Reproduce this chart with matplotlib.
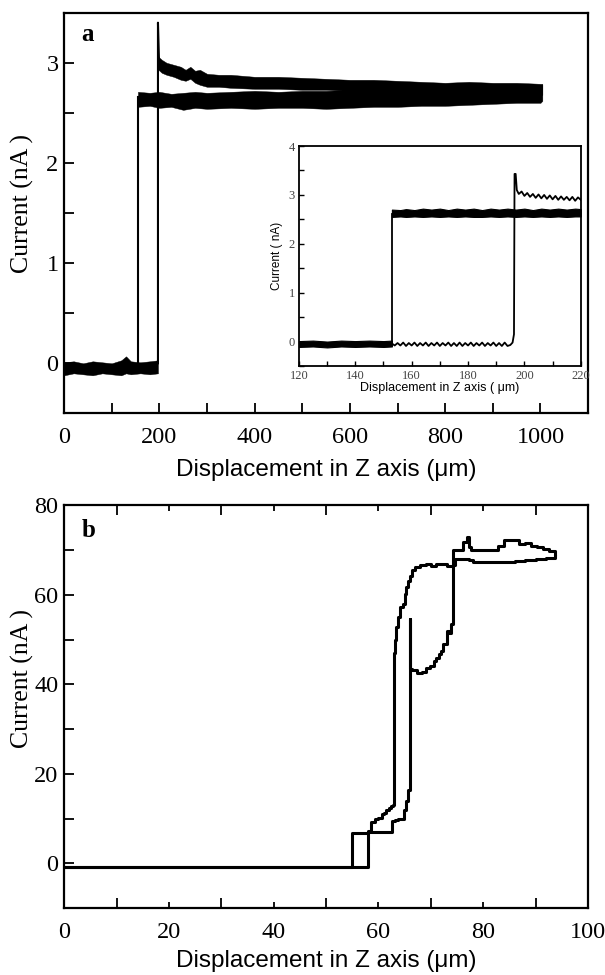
import numpy as np
import matplotlib.pyplot as plt
from matplotlib.ticker import MultipleLocator

# ---------------- panel a : main traces ----------------
# baseline band shared by both sweeps
a_base_x = [0, 20, 40, 60, 80, 100, 120, 130, 140, 160, 180, 197]
a_base_lo = [-0.12, -0.10, -0.11, -0.12, -0.10, -0.11, -0.12, -0.10, -0.11, -0.10, -0.11, -0.10]
a_base_hi = [0.01, 0.02, 0.00, 0.02, 0.01, 0.00, 0.03, 0.07, 0.02, 0.01, 0.02, 0.03]

# sweep 1: step at ~155 um, noisy plateau
a1_step_x = [155, 155]
a1_step_y = [0.0, 2.66]
a1_band_x = [155, 180, 200, 225, 250, 275, 300, 350, 400, 450, 500, 550, 600, 650, 700, 750, 800,
             850, 900, 950, 1000, 1004]
a1_band_lo = [2.56, 2.57, 2.55, 2.56, 2.53, 2.55, 2.54, 2.55, 2.54, 2.55, 2.55, 2.54, 2.55, 2.56, 2.56,
              2.57, 2.57, 2.58, 2.59, 2.60, 2.60, 2.62]
a1_band_hi = [2.71, 2.70, 2.71, 2.69, 2.70, 2.71, 2.70, 2.71, 2.72, 2.71, 2.72, 2.72, 2.73, 2.73, 2.74,
              2.75, 2.76, 2.76, 2.77, 2.77, 2.77, 2.78]

# sweep 2: step at ~197 um with overshoot, decaying plateau
a2_step_x = [197, 197, 199]
a2_step_y = [0.0, 3.40, 3.05]
a2_band_x = [198, 205, 215, 230, 245, 255, 265, 275, 285, 300, 325, 350, 400, 450, 500, 550, 600,
             650, 700, 750, 800, 850, 900, 950, 1000, 1004]
a2_band_hi = [3.06, 3.03, 3.00, 2.98, 2.96, 2.93, 2.96, 2.92, 2.93, 2.89, 2.88, 2.88, 2.86, 2.86, 2.85,
              2.84, 2.83, 2.83, 2.82, 2.81, 2.80, 2.81, 2.80, 2.80, 2.79, 2.79]
a2_band_lo = [2.93, 2.90, 2.88, 2.86, 2.83, 2.82, 2.84, 2.80, 2.78, 2.76, 2.76, 2.75, 2.74, 2.74, 2.73,
              2.73, 2.72, 2.72, 2.71, 2.71, 2.70, 2.70, 2.69, 2.69, 2.68, 2.68]

# ---------------- panel a : inset ----------------
in_base_x = [120, 125, 130, 135, 140, 145, 150, 153]
in_base_lo = [-0.11, -0.10, -0.12, -0.10, -0.11, -0.10, -0.11, -0.10]
in_base_hi = [0.01, 0.02, 0.00, 0.02, 0.01, 0.02, 0.01, 0.02]
in1_step_x = [153, 153]
in1_step_y = [-0.05, 2.62]
in1_band_x = [153, 156, 158, 161, 164, 167, 170, 173, 176, 179, 182, 185, 188, 191, 194, 197, 200, 203,
              206, 209, 212, 215, 218, 220]
in1_band_lo = [2.55, 2.56, 2.55, 2.56, 2.55, 2.56, 2.55, 2.56, 2.55, 2.56, 2.55, 2.55, 2.56, 2.55, 2.56,
               2.55, 2.56, 2.55, 2.56, 2.55, 2.56, 2.55, 2.56, 2.56]
in1_band_hi = [2.70, 2.69, 2.71, 2.69, 2.72, 2.70, 2.72, 2.69, 2.72, 2.70, 2.72, 2.69, 2.72, 2.70, 2.72,
               2.70, 2.72, 2.69, 2.72, 2.70, 2.72, 2.70, 2.72, 2.71]
# sweep 2 in the inset: rippled baseline, step at ~196.5 um, rippled plateau
in2_x = [153, 154, 155, 156, 157, 158, 159, 160, 161, 162, 163, 164, 165, 166, 167, 168, 169, 170,
         171, 172, 173, 174, 175, 176, 177, 178, 179, 180, 181, 182, 183, 184, 185, 186, 187, 188,
         189, 190, 191, 192, 193, 194, 195, 195.8, 196.3, 196.5, 196.9, 197.3,
         198, 199, 200, 201, 202, 203, 204, 205, 206, 207, 208, 209, 210, 211, 212, 213, 214,
         215, 216, 217, 218, 219, 220]
in2_y = [-0.04, -0.08, -0.03, -0.08, -0.02, -0.09, -0.03, -0.08, -0.02, -0.09, -0.03, -0.08, -0.02, -0.09,
         -0.03, -0.08, -0.02, -0.09, -0.03, -0.08, -0.02, -0.09, -0.03, -0.09, -0.02, -0.09, -0.03, -0.08,
         -0.02, -0.09, -0.03, -0.08, -0.02, -0.09, -0.03, -0.08, -0.02, -0.09, -0.03, -0.09, -0.02, -0.09,
         -0.07, -0.02, 0.15, 3.43, 3.43, 3.10,
         3.02, 3.07, 2.98, 3.04, 2.96, 3.02, 2.94, 3.01, 2.93, 3.00, 2.92, 2.99, 2.91, 2.98, 2.90, 2.97,
         2.90, 2.96, 2.89, 2.96, 2.88, 2.95, 2.90]

# ---------------- panel b ----------------
b1_x = [0, 55, 55, 58, 58.6, 59.3, 60, 60.6, 61, 61.5, 62, 62.4, 62.8, 63.0, 63.0, 63.1, 63.4, 63.8,
        64.2, 64.6, 65.0, 65.3, 65.7, 66.0, 66.4, 67.0, 67.9, 69, 70, 71, 72, 73, 74.3, 74.6, 76, 77.2,
        78, 80, 82, 84, 86, 88, 90, 92, 93.7]
b1_y = [-0.9, -0.9, 6.8, 7.3, 9.2, 9.8, 10.2, 11.0, 11.2, 12.0, 12.3, 12.8, 13.0, 18.5, 47.0, 49.8, 52.8,
        55.0, 57.3, 58.0, 60.2, 61.7, 63.2, 64.3, 65.5, 66.2, 66.6, 66.9, 66.4, 66.8, 66.8, 66.5, 66.6,
        68.0, 68.0, 67.8, 67.3, 67.3, 67.4, 67.3, 67.6, 67.8, 68.0, 68.3, 68.6]
b2_x = [0, 58, 58, 62, 62.5, 63.2, 63.8, 64.9, 65.3, 65.7, 66.0, 66.0, 66.1, 66.4, 67.3, 68.3, 69.0,
        69.8, 70.5, 71.0, 71.6, 72.0, 72.4, 73.1, 73.5, 73.9, 74.3, 74.3, 75.7, 76.1, 76.9, 77.2, 77.6,
        80, 81.7, 82.8, 84, 85.4, 86.9, 88, 89.2, 90.3, 91.4, 92.5, 93.7]
b2_y = [-0.9, -0.9, 7.0, 7.0, 9.5, 9.6, 9.9, 11.8, 14.0, 16.3, 16.3, 54.5, 43.5, 43.1, 42.5, 42.7, 43.6,
        44.2, 45.3, 45.8, 46.8, 47.5, 49.0, 52.0, 51.4, 53.5, 55.4, 70.0, 70.0, 71.8, 72.9, 70.7, 70.0,
        70.0, 70.0, 71.0, 72.2, 72.2, 71.4, 71.6, 71.0, 70.8, 70.3, 69.8, 69.2]

SERIF = ['Liberation Serif', 'DejaVu Serif']
SANS = ['Liberation Sans', 'DejaVu Sans']

fig = plt.figure(figsize=(6.05, 9.75), dpi=100)

def style_main(ax):
    for s in ax.spines.values():
        s.set_linewidth(1.6)
    ax.tick_params(which='both', direction='in', length=7, width=1.3, labelsize=17.5)
    ax.tick_params(axis='x', which='both', pad=10)
    ax.tick_params(axis='y', which='both', pad=4)
    for lab in ax.get_xticklabels() + ax.get_yticklabels():
        lab.set_family(SERIF)

# ---- panel a
axa = fig.add_axes([0.106, 0.576, 0.866, 0.411])
axa.fill_between(a_base_x, a_base_lo, a_base_hi, color='black', lw=0.3)
axa.fill_between(a1_band_x, a1_band_lo, a1_band_hi, color='black', lw=0.3)
axa.fill_between(a2_band_x, a2_band_lo, a2_band_hi, color='black', lw=0.3)
axa.plot(a1_step_x, a1_step_y, color='black', lw=1.5)
axa.plot(a2_step_x, a2_step_y, color='black', lw=1.5)
axa.set_xlim(0, 1100)
axa.set_ylim(-0.5, 3.5)
axa.xaxis.set_major_locator(MultipleLocator(200))
axa.xaxis.set_minor_locator(MultipleLocator(100))
axa.yaxis.set_major_locator(MultipleLocator(1))
axa.yaxis.set_minor_locator(MultipleLocator(0.5))
style_main(axa)
axa.set_ylabel('Current (nA )', family=SERIF, fontsize=18.5)
axa.yaxis.set_label_coords(-0.057, 0.524)
axa.set_xlabel('Displacement in Z axis (μm)', family=SANS, fontsize=17.5, labelpad=8)
axa.text(0.033, 0.975, 'a', transform=axa.transAxes, ha='left', va='top',
         family=SERIF, fontsize=18, fontweight='bold')

# ---- inset
axi = fig.add_axes([0.494, 0.6246, 0.466, 0.2256])
axi.fill_between(in_base_x, in_base_lo, in_base_hi, color='black', lw=0.8)
axi.fill_between(in1_band_x, in1_band_lo, in1_band_hi, color='black', lw=0.8)
axi.plot(in1_step_x, in1_step_y, color='black', lw=1.3)
axi.plot(in2_x, in2_y, color='black', lw=1.3)
axi.set_xlim(120, 220)
axi.set_ylim(-0.5, 4)
axi.xaxis.set_major_locator(MultipleLocator(20))
axi.xaxis.set_minor_locator(MultipleLocator(10))
axi.yaxis.set_major_locator(MultipleLocator(1))
axi.yaxis.set_minor_locator(MultipleLocator(0.5))
for s in axi.spines.values():
    s.set_linewidth(1.3)
axi.tick_params(which='both', direction='in', length=3.5, width=1.0, labelsize=9,
                labelcolor='#444444', pad=3)
for lab in axi.get_xticklabels() + axi.get_yticklabels():
    lab.set_family(SERIF)
axi.set_ylabel('Current ( nA)', family=SANS, fontsize=8.5, labelpad=4)
axi.set_xlabel('Displacement in Z axis ( μm)', family=SANS, fontsize=9, labelpad=0)

# ---- panel b
axb = fig.add_axes([0.106, 0.0687, 0.866, 0.413])
axb.plot(b1_x, b1_y, color='black', lw=2.2, drawstyle='steps-post')
axb.plot(b2_x, b2_y, color='black', lw=2.2, drawstyle='steps-post')
axb.set_xlim(0, 100)
axb.set_ylim(-10, 80)
axb.xaxis.set_major_locator(MultipleLocator(20))
axb.xaxis.set_minor_locator(MultipleLocator(10))
axb.yaxis.set_major_locator(MultipleLocator(20))
axb.yaxis.set_minor_locator(MultipleLocator(10))
style_main(axb)
axb.tick_params(axis='x', which='minor', top=True)
axb.tick_params(axis='x', which='major', top=True, length=4)
axb.set_ylabel('Current (nA )', family=SERIF, fontsize=18.5)
axb.yaxis.set_label_coords(-0.057, 0.57)
axb.set_xlabel('Displacement in Z axis (μm)', family=SANS, fontsize=17.5, labelpad=5)
axb.text(0.033, 0.965, 'b', transform=axb.transAxes, ha='left', va='top',
         family=SERIF, fontsize=18, fontweight='bold')

fig.savefig('out.png', dpi=100)
